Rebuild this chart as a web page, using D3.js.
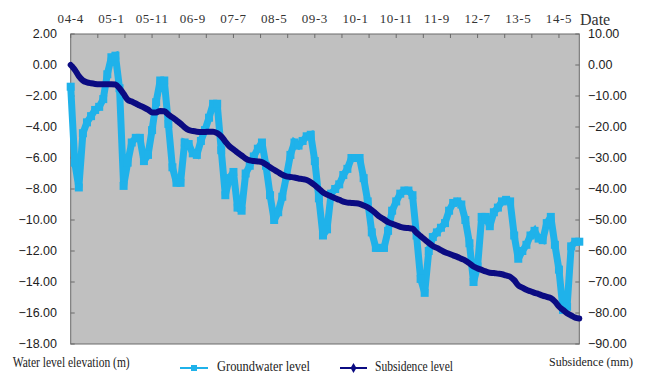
<!DOCTYPE html>
<html>
<head>
<meta charset="utf-8">
<script src="https://cdn.jsdelivr.net/npm/d3@7"></script>
<style>
  body { margin: 0; background: #fff; }
  svg { display: block; }
</style>
</head>
<body>
<div id="chart"></div>
<script>
// category labels on the top axis (one every 10 samples)
const dateLabels = ['04-4', '05-1', '05-11', '06-9', '07-7', '08-5', '09-3',
  '10-1', '10-11', '11-9', '12-7', '13-5', '14-5'];

// left axis: water level elevation (m)
const leftTicks = [2, 0, -2, -4, -6, -8, -10, -12, -14, -16, -18];
// right axis: subsidence (mm)
const rightTicks = [10, 0, -10, -20, -30, -40, -50, -60, -70, -80, -90];

// groundwater level (m)
const groundwater = [
  -1.4, -6.3, -7.9, -4.4, -3.7, -3.3, -2.9, -2.7, -2.2, -0.6,
  0.5, 0.6, -1.5, -7.8, -6.3, -5.0, -4.7, -4.7, -6.2, -5.8,
  -4.2, -2.4, -1.0, -1.0, -3.8, -6.6, -7.6, -7.6, -5.0, -5.1,
  -5.7, -5.8, -4.9, -4.2, -3.4, -2.5, -2.5, -5.5, -8.4, -7.3,
  -6.9, -9.2, -9.4, -7.0, -6.5, -5.9, -5.4, -5.0, -6.5, -8.4,
  -10.0, -9.5, -8.5, -7.2, -5.8, -5.0, -5.2, -4.9, -4.6, -4.5,
  -6.2, -8.6, -11.0, -10.6, -8.3, -8.0, -7.7, -7.1, -6.7, -6.0,
  -6.0, -6.0, -7.3, -8.8, -10.8, -11.8, -11.8, -11.8, -10.7, -9.4,
  -8.8, -8.3, -8.1, -8.1, -8.4, -11.0, -13.8, -14.7, -12.0, -11.1,
  -10.8, -10.5, -10.2, -9.4, -8.9, -8.8, -9.0, -10.0, -11.5, -14.0,
  -13.0, -9.8, -9.8, -10.4, -9.5, -9.2, -8.8, -8.7, -8.8, -11.0,
  -12.5, -12.0, -11.6, -11.0, -10.7, -11.2, -11.3, -10.2, -9.8, -11.6,
  -13.2, -15.8, -15.6, -11.7, -11.4, -11.4
];

// subsidence (mm)
const subsidence = [
  0.0, -1.5, -3.6, -5.0, -5.6, -5.9, -6.1, -6.2, -6.2, -6.2,
  -6.2, -6.3, -7.5, -9.3, -11.2, -11.8, -12.4, -13.1, -13.7, -14.4,
  -15.3, -15.3, -14.8, -14.9, -16.0, -16.9, -17.9, -18.9, -20.1, -21.0,
  -21.3, -21.5, -21.6, -21.6, -21.5, -21.5, -22.0, -23.0, -24.7, -26.2,
  -27.2, -28.3, -29.2, -30.2, -30.8, -31.0, -31.1, -31.3, -32.1, -33.0,
  -33.8, -34.6, -35.4, -35.9, -36.1, -36.3, -36.6, -36.8, -37.1, -37.8,
  -38.8, -39.9, -41.1, -41.8, -42.4, -43.0, -43.5, -44.1, -44.4, -44.5,
  -44.6, -44.8, -45.3, -45.9, -46.8, -47.9, -49.0, -49.8, -50.7, -51.2,
  -51.7, -52.2, -52.5, -52.6, -52.8, -54.1, -55.2, -56.3, -57.4, -58.4,
  -59.0, -59.7, -60.4, -60.9, -61.4, -61.9, -62.5, -63.1, -64.0, -65.0,
  -65.6, -66.1, -66.6, -67.0, -67.1, -67.3, -67.5, -67.9, -68.3, -69.4,
  -71.1, -71.8, -72.5, -73.0, -73.5, -73.9, -74.4, -74.8, -75.2, -76.3,
  -77.9, -79.0, -80.1, -80.8, -81.5, -81.8
];

const width = 645;
const height = 374;
const plot = {left: 70.7, right: 579.3, top: 34, bottom: 344};
const gwColor = '#1fb2ea';
const subColor = '#0b0b82';

const svg = d3.select('#chart')
  .append('svg')
  .attr('width', width)
  .attr('height', height);

const x = d3.scaleLinear().domain([0, groundwater.length - 1]).range([plot.left, plot.right]);
const yLeft = d3.scaleLinear().domain([-18, 2]).range([plot.bottom, plot.top]);
const yRight = d3.scaleLinear().domain([-90, 10]).range([plot.bottom, plot.top]);

// plot area
svg.append('rect')
  .attr('x', plot.left)
  .attr('y', plot.top)
  .attr('width', plot.right - plot.left)
  .attr('height', plot.bottom - plot.top)
  .attr('fill', '#c0c0c0')
  .attr('stroke', '#6a6a6a')
  .attr('stroke-width', 1);

// top axis: ticks every 20/3 samples, labels every 10
const topTicks = d3.range(0, groundwater.length - 1 + 0.01, 20 / 3);
svg.append('g')
  .selectAll('line')
  .data(topTicks)
  .enter()
  .append('line')
  .attr('x1', (d) => x(d)).attr('x2', (d) => x(d))
  .attr('y1', plot.top).attr('y2', plot.top + 4)
  .attr('stroke', '#6a6a6a');

svg.append('g')
  .selectAll('text')
  .data(dateLabels)
  .enter()
  .append('text')
  .attr('x', (d, i) => x(i * 10))
  .attr('y', 23)
  .attr('text-anchor', 'middle')
  .style('font', '13px "Liberation Serif", serif')
  .style('letter-spacing', '0.6px')
  .attr('fill', '#333')
  .text((d) => d);

svg.append('text')
  .attr('x', 580)
  .attr('y', 25)
  .style('font', '16px "Liberation Serif", serif')
  .attr('fill', '#333')
  .text('Date');

// left axis
const left = svg.append('g');
left.selectAll('line')
  .data(leftTicks)
  .enter()
  .append('line')
  .attr('x1', plot.left).attr('x2', plot.left + 4)
  .attr('y1', (d) => yLeft(d)).attr('y2', (d) => yLeft(d))
  .attr('stroke', '#6a6a6a');
left.selectAll('text')
  .data(leftTicks)
  .enter()
  .append('text')
  .attr('x', 57)
  .attr('y', (d) => yLeft(d))
  .attr('dy', '0.35em')
  .attr('text-anchor', 'end')
  .style('font', '12.5px "Liberation Sans", Arial, sans-serif')
  .attr('fill', '#222')
  .text((d) => d3.format('.2f')(d));

// right axis
const right = svg.append('g');
right.selectAll('line')
  .data(rightTicks)
  .enter()
  .append('line')
  .attr('x1', plot.right - 4).attr('x2', plot.right)
  .attr('y1', (d) => yRight(d)).attr('y2', (d) => yRight(d))
  .attr('stroke', '#6a6a6a');
right.selectAll('text')
  .data(rightTicks)
  .enter()
  .append('text')
  .attr('x', 588)
  .attr('y', (d) => yRight(d))
  .attr('dy', '0.35em')
  .style('font', '12.5px "Liberation Sans", Arial, sans-serif')
  .attr('fill', '#222')
  .text((d) => d3.format('.2f')(d));

// groundwater series: thick line plus square markers
const gwLine = d3.line()
  .x((d, i) => x(i))
  .y((d) => yLeft(d));

svg.append('path')
  .datum(groundwater)
  .attr('d', gwLine)
  .attr('fill', 'none')
  .attr('stroke', gwColor)
  .attr('stroke-width', 7)
  .attr('stroke-linejoin', 'miter')
  .attr('stroke-miterlimit', 2);

svg.append('g')
  .selectAll('rect')
  .data(groundwater)
  .enter()
  .append('rect')
  .attr('x', (d, i) => x(i) - 4)
  .attr('y', (d) => yLeft(d) - 4)
  .attr('width', 8)
  .attr('height', 8)
  .attr('fill', gwColor);

// subsidence series
const subLine = d3.line()
  .x((d, i) => x(i))
  .y((d) => yRight(d))
  .curve(d3.curveMonotoneX);

svg.append('path')
  .datum(subsidence)
  .attr('d', subLine)
  .attr('fill', 'none')
  .attr('stroke', subColor)
  .attr('stroke-width', 6)
  .attr('stroke-linejoin', 'round')
  .attr('stroke-linecap', 'round');

// bottom titles and legend
const labelFont = '14px "Liberation Serif", serif';
svg.append('text')
  .attr('x', 12.7).attr('y', 367)
  .attr('textLength', 117).attr('lengthAdjust', 'spacingAndGlyphs')
  .style('font', labelFont).attr('fill', '#222')
  .text('Water level elevation (m)');

svg.append('text')
  .attr('x', 549).attr('y', 366)
  .attr('textLength', 84).attr('lengthAdjust', 'spacingAndGlyphs')
  .style('font', '13px "Liberation Serif", serif').attr('fill', '#222')
  .text('Subsidence (mm)');

const legend = svg.append('g');
legend.append('line')
  .attr('x1', 180).attr('x2', 208).attr('y1', 368).attr('y2', 368)
  .attr('stroke', gwColor).attr('stroke-width', 2);
legend.append('rect')
  .attr('x', 191).attr('y', 365).attr('width', 6).attr('height', 6)
  .attr('fill', gwColor);
legend.append('text')
  .attr('x', 217).attr('y', 371)
  .attr('textLength', 93).attr('lengthAdjust', 'spacingAndGlyphs')
  .style('font', labelFont).attr('fill', '#222')
  .text('Groundwater level');

legend.append('line')
  .attr('x1', 340).attr('x2', 367).attr('y1', 368).attr('y2', 368)
  .attr('stroke', subColor).attr('stroke-width', 2);
legend.append('path')
  .attr('d', d3.symbol(d3.symbolDiamond, 30))
  .attr('transform', 'translate(353.5,368)')
  .attr('fill', subColor);
legend.append('text')
  .attr('x', 375).attr('y', 371)
  .attr('textLength', 78).attr('lengthAdjust', 'spacingAndGlyphs')
  .style('font', labelFont).attr('fill', '#222')
  .text('Subsidence level');
</script>
</body>
</html>
